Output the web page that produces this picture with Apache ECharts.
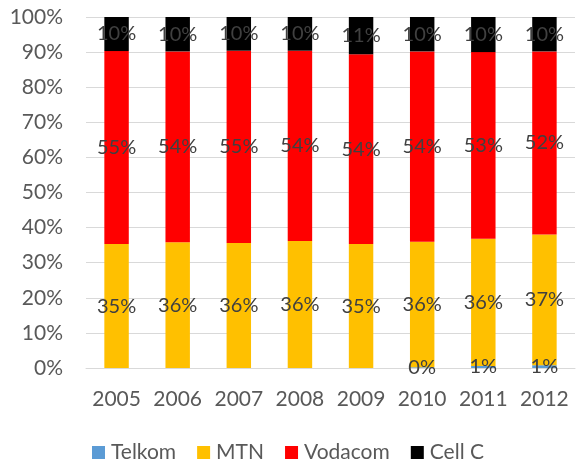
<!DOCTYPE html>
<html><head><meta charset="utf-8">
<script src="https://cdn.jsdelivr.net/npm/echarts@6/dist/echarts.min.js"></script>
<style>html,body{margin:0;padding:0;background:#fff}#c{width:576px;height:463px}</style>
</head><body><div id="c"></div>
<script>
const years = ['2005','2006','2007','2008','2009','2010','2011','2012'];
const telkom = [null, null, null, null, null, 0.2, 0.6, 0.8];
const mtn = [35.3, 35.8, 35.6, 36.2, 35.3, 35.8, 36.2, 37.2];
const vodacom = [55.0, 54.4, 54.8, 54.2, 54.1, 54.2, 53.2, 52.2];
const cellC = [9.7, 9.8, 9.6, 9.6, 10.6, 9.8, 10.0, 9.8];
const yTicks = [0,10,20,30,40,50,60,70,80,90,100];

const FONT = 'Lato';
const lbl = {
  show: true, position: 'inside', color: '#404040', fontSize: 20, fontFamily: FONT,
  formatter: p => (p.value == null ? '' : Math.round(p.value) + '%')
};
function mk(name, data, color) {
  return { name, type: 'bar', stack: 'a', data, barWidth: '40%',
    itemStyle: { color }, label: lbl, emphasis: { disabled: true } };
}
const chart = echarts.init(document.getElementById('c'), null, { renderer: 'canvas' });
chart.setOption({
  animation: false,
  grid: { left: 86, right: 1, top: 17, bottom: 95, containLabel: false },
  legend: {
    top: 437, left: 'center', itemWidth: 13, itemHeight: 13, itemGap: 21,
    icon: 'rect',
    textStyle: { color: '#595959', fontSize: 21, fontFamily: FONT, padding: [0,0,0,1] },
    data: ['Telkom', 'MTN', 'Vodacom', 'Cell C']
  },
  xAxis: {
    type: 'category', data: years,
    axisLine: { lineStyle: { color: '#d9d9d9' } }, axisTick: { show: false },
    axisLabel: { color: '#595959', fontSize: 21, fontFamily: FONT, margin: 21, interval: 0 }
  },
  yAxis: {
    type: 'value', min: yTicks[0], max: yTicks[yTicks.length-1], interval: 10,
    axisLine: { show: false }, axisTick: { show: false },
    splitLine: { lineStyle: { color: '#d9d9d9', width: 1 } },
    axisLabel: { color: '#595959', fontSize: 21, fontFamily: FONT, margin: 23, formatter: '{value}%' }
  },
  series: [
    mk('Telkom', telkom, '#5b9bd5'),
    mk('MTN', mtn, '#ffc000'),
    mk('Vodacom', vodacom, '#ff0000'),
    mk('Cell C', cellC, '#000000')
  ]
});
</script></body></html>
